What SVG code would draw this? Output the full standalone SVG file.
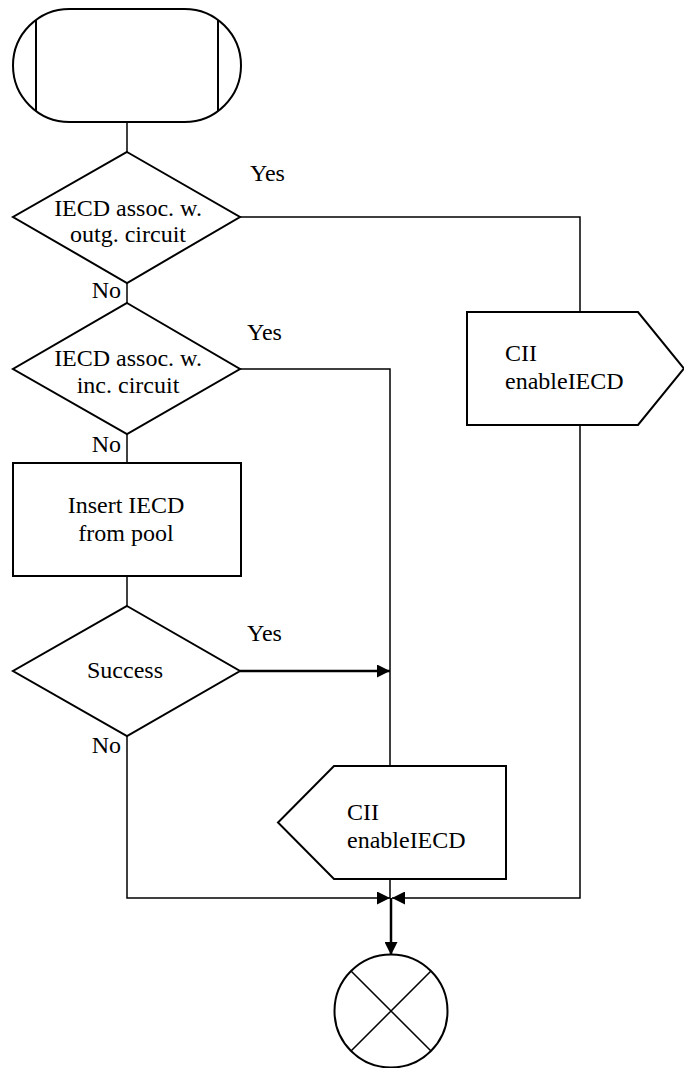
<svg xmlns="http://www.w3.org/2000/svg" width="684" height="1068" viewBox="0 0 684 1068">
<style>
.shape{fill:#fff;stroke:#000;stroke-width:2}
.line{fill:none;stroke:#000;stroke-width:1.5}
.thick{fill:none;stroke:#000;stroke-width:2.5}
.c{text-anchor:middle}
.e{text-anchor:end}
</style>
<defs>
<marker id="arr" markerUnits="userSpaceOnUse" markerWidth="13" markerHeight="13" refX="13" refY="6.5" orient="auto">
<path d="M0,0 L13,6.5 L0,13 Z" fill="#000"/>
</marker>
</defs>
<rect width="684" height="1068" fill="#fff"/>
<g id="connectors">
<path class="line" d="M127,122 V152"/>
<path class="line" d="M240,217 H580 V312"/>
<path class="line" d="M127,283 V303"/>
<path class="line" d="M240,369 H390 V766"/>
<path class="line" d="M127,434 V463"/>
<path class="line" d="M127,576 V606"/>
<path class="thick" d="M240,671 H390" marker-end="url(#arr)"/>
<path class="line" d="M127,736 V898 H390" marker-end="url(#arr)"/>
<path class="line" d="M580,425 V898 H392" marker-end="url(#arr)"/>
<path class="line" d="M390,879 V898"/>
<path class="thick" d="M391,898 V955" marker-end="url(#arr)"/>
</g>
<g font-family="'Liberation Serif', 'Times New Roman', 'DejaVu Serif', serif" font-size="24" fill="#000">
<g id="start">
<path class="shape" d="M69.5,9 H184.5 A56.5,56.5 0 0 1 184.5,122 H69.5 A56.5,56.5 0 0 1 69.5,9 Z"/>
<path class="shape" d="M36,20 V111 M218,20 V111"/>
</g>
<g id="decision1">
<polygon class="shape" points="127,152 240,217 127,283 13,217"/>
<text class="c" x="128" y="216">IECD assoc. w.</text>
<text class="c" x="128" y="242">outg. circuit</text>
<text x="250" y="181">Yes</text>
<text class="e" x="121" y="298">No</text>
</g>
<g id="decision2">
<polygon class="shape" points="127,303 240,369 127,434 13,369"/>
<text class="c" x="128" y="366">IECD assoc. w.</text>
<text class="c" x="128" y="393">inc. circuit</text>
<text x="247" y="340">Yes</text>
<text class="e" x="121" y="452">No</text>
</g>
<g id="task">
<rect class="shape" x="13" y="463" width="228" height="113"/>
<text class="c" x="126" y="513">Insert IECD</text>
<text class="c" x="126" y="541">from pool</text>
</g>
<g id="decision3">
<polygon class="shape" points="127,606 240,671 127,736 13,671"/>
<text class="c" x="125" y="678">Success</text>
<text x="247" y="641">Yes</text>
<text class="e" x="121" y="753">No</text>
</g>
<g id="output1">
<polygon class="shape" points="467,312 638,312 684,368.5 638,425 467,425"/>
<text x="505" y="361">CII</text>
<text x="505" y="389">enableIECD</text>
</g>
<g id="input1">
<polygon class="shape" points="334,766 506,766 506,879 334,879 278,822.5"/>
<text x="347" y="820">CII</text>
<text x="347" y="848">enableIECD</text>
</g>
<g id="end">
<circle class="shape" cx="391" cy="1011" r="56.5"/>
<path class="line" d="M351,971 L431,1051 M431,971 L351,1051"/>
</g>
</g>
</svg>
